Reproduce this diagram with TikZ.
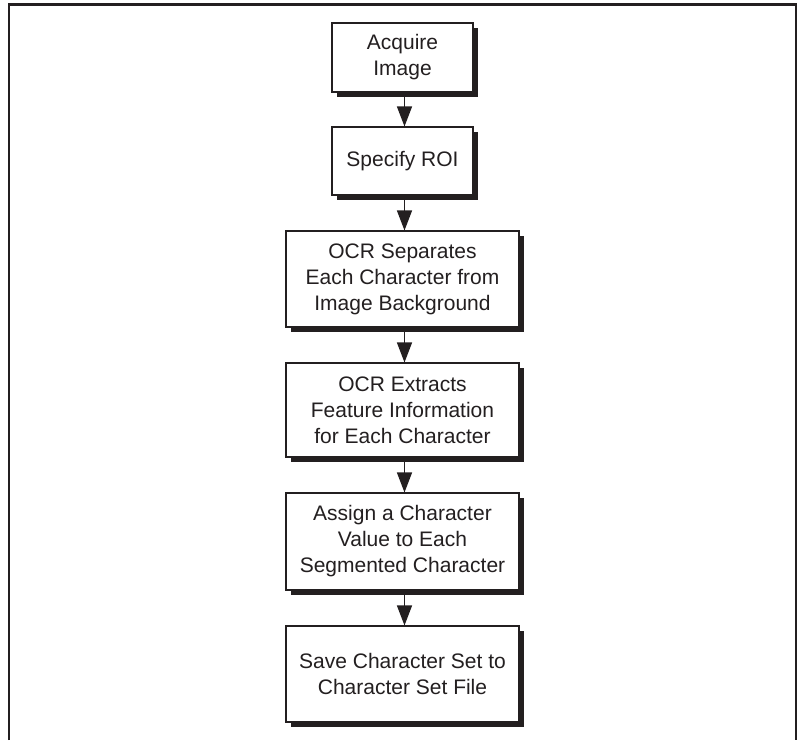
\documentclass[tikz,border=0pt]{standalone}
\usepackage{fontspec}
\setmainfont{Liberation Sans}
\usetikzlibrary{arrows.meta,shadows}
\definecolor{ink}{RGB}{35,31,32}
\begin{document}
\begin{tikzpicture}[x=1pt,y=-1pt,
  stepbox/.style={draw=ink, line width=1.1pt, fill=white, align=center,
    text=ink, inner sep=0pt,
    font=\fontsize{21}{26}\selectfont,
    general shadow={fill=ink, shadow xshift=4.5pt, shadow yshift=-4.5pt}},
  conn/.style={draw=ink, line width=1.3pt, -{Triangle[length=20pt,width=15pt]}}]
\useasboundingbox (0,0) rectangle (801,740);
\draw[ink, line width=2.6pt] (9,740) -- (9,4.3) -- (796,4.3) -- (796,740);
\node[stepbox, minimum width=141pt, minimum height=69pt] (a) at (402.5,57.5) {Acquire\\Image};
\node[stepbox, minimum width=141pt, minimum height=68pt] (b) at (402.5,161) {Specify ROI};
\node[stepbox, minimum width=233pt, minimum height=96pt] (c) at (402.5,279) {OCR Separates\\Each Character from\\Image Background};
\node[stepbox, minimum width=233pt, minimum height=94pt] (d) at (402.5,410) {OCR Extracts\\Feature Information\\for Each Character};
\node[stepbox, minimum width=233pt, minimum height=97pt] (e) at (402.5,541.5) {Assign a Character\\Value to Each\\Segmented Character};
\node[stepbox, minimum width=233pt, minimum height=96pt] (f) at (402.5,674) {Save Character Set to\\Character Set File};
\draw[conn] ([xshift=2pt]a.south) -- ([xshift=2pt]b.north);
\draw[conn] ([xshift=2pt]b.south) -- ([xshift=2pt]c.north);
\draw[conn] ([xshift=2pt]c.south) -- ([xshift=2pt]d.north);
\draw[conn] ([xshift=2pt]d.south) -- ([xshift=2pt]e.north);
\draw[conn] ([xshift=2pt]e.south) -- ([xshift=2pt]f.north);
\end{tikzpicture}
\end{document}
